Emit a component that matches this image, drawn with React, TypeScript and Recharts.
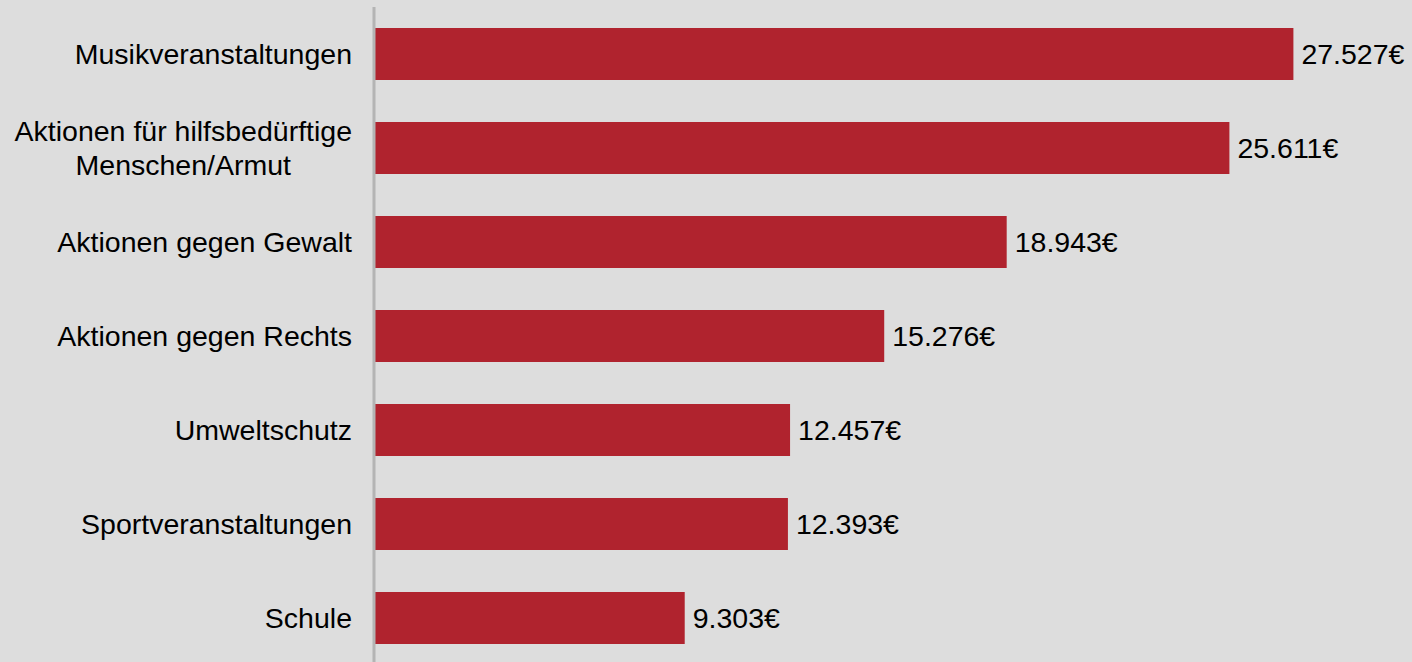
import { BarChart, Bar, XAxis, YAxis, LabelList } from "recharts";

const categories = [
  "Musikveranstaltungen",
  "Aktionen für hilfsbedürftige\nMenschen/Armut",
  "Aktionen gegen Gewalt",
  "Aktionen gegen Rechts",
  "Umweltschutz",
  "Sportveranstaltungen",
  "Schule",
];

const amounts = [27527, 25611, 18943, 15276, 12457, 12393, 9303];

const data = categories.map((name, i) => ({ name, value: amounts[i] }));

const FONT = '"Liberation Sans", Arial, Helvetica, sans-serif';
const FONT_SIZE = 28.5;

// German thousands separator + euro sign, e.g. 27.527€
const formatEuro = (v: unknown) =>
  String(v).replace(/\B(?=(\d{3})+(?!\d))/g, ".") + "€";

let measureCtx: CanvasRenderingContext2D | null = null;
function textWidth(s: string) {
  if (!measureCtx) {
    measureCtx = document.createElement("canvas").getContext("2d");
  }
  if (!measureCtx) return s.length * FONT_SIZE * 0.5;
  measureCtx.font = `${FONT_SIZE}px ${FONT}`;
  return measureCtx.measureText(s).width;
}

// multi-line labels are centred as a block, right edge at the tick position
function CategoryTick(props: any) {
  const { x, y, payload } = props;
  const lines = String(payload.value).split("\n");
  const lineHeight = 34;
  const firstDy = -((lines.length - 1) * lineHeight) / 2 + 10;
  const multi = lines.length > 1;
  const blockW = multi ? Math.max(...lines.map(textWidth)) : 0;
  const tx = multi ? x - blockW / 2 : x;
  return (
    <text
      x={tx}
      y={y}
      textAnchor={multi ? "middle" : "end"}
      fill="#000"
      fontSize={FONT_SIZE}
      fontFamily={FONT}
    >
      {lines.map((line, i) => (
        <tspan key={i} x={tx} dy={i === 0 ? firstDy : lineHeight}>
          {line}
        </tspan>
      ))}
    </text>
  );
}

export default function App() {
  return (
    <div
      style={{
        position: "absolute",
        top: 0,
        left: 0,
        width: 1412,
        height: 662,
        overflow: "hidden",
        background: "#dddddd",
      }}
    >
      <BarChart
        width={1412}
        height={666}
        data={data}
        layout="vertical"
        margin={{ top: 7, right: 36, bottom: 1, left: 0 }}
        barCategoryGap={42}
      >
        <XAxis type="number" domain={[0, 30000]} hide />
        <YAxis
          type="category"
          dataKey="name"
          width={374}
          tickLine={false}
          tickSize={0}
          tickMargin={22}
          axisLine={{ stroke: "#b4b4b4", strokeWidth: 3 }}
          tick={<CategoryTick />}
          interval={0}
        />
        <Bar
          dataKey="value"
          fill="#b0232e"
          barSize={52}
          isAnimationActive={false}
        >
          <LabelList
            dataKey="value"
            position="right"
            offset={8}
            formatter={formatEuro}
            fill="#000"
            fontSize={FONT_SIZE}
            fontFamily={FONT}
          />
        </Bar>
      </BarChart>
    </div>
  );
}
